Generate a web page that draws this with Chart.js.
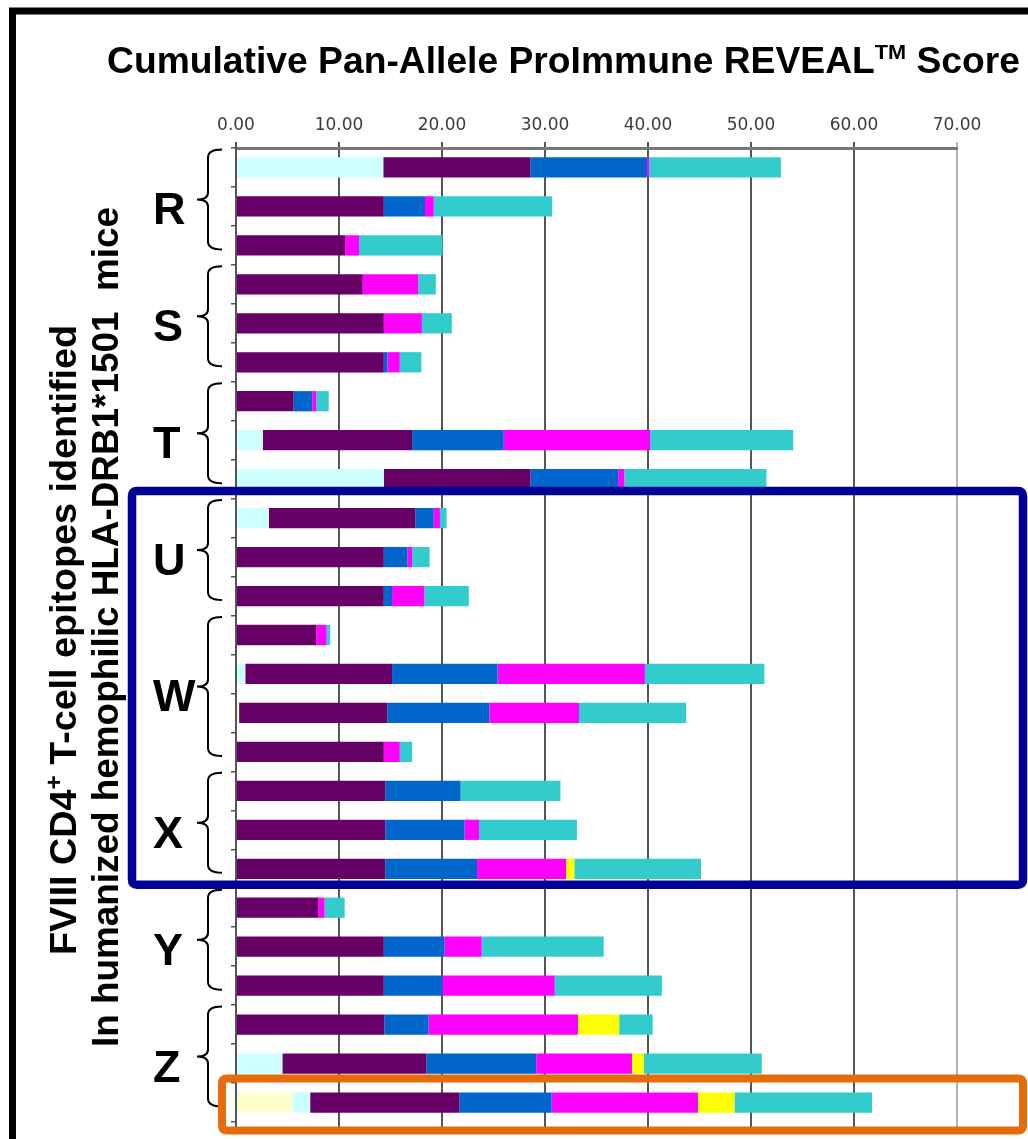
<!DOCTYPE html>
<html>
<head>
<meta charset="utf-8">
<style>
  html, body { margin: 0; padding: 0; background: #fff; overflow: hidden; }
  canvas { display: block; }
</style>
<script src="https://cdn.jsdelivr.net/npm/chart.js@4.4.1/dist/chart.umd.min.js"></script>
</head>
<body>
<canvas id="chart" width="1028" height="1139"></canvas>
<script>
// Epitope rows, top to bottom, grouped by region
const groups = ['R', 'S', 'T', 'U', 'W', 'X', 'Y', 'Z'];
const groupSizes = [3, 3, 3, 3, 4, 3, 3, 3];
const epitopes = ['R-1','R-2','R-3','S-1','S-2','S-3','T-1','T-2','T-3','U-1','U-2','U-3',
                  'W-1','W-2','W-3','W-4','X-1','X-2','X-3','Y-1','Y-2','Y-3','Z-1','Z-2','Z-3'];
const xTicks = [0, 10, 20, 30, 40, 50, 60, 70];

// REVEAL score contribution of each HLA-DR allele, stacked left to right
const allele1 = [0,0,0, 0,0,0, 0,0,0, 0,0,0, 0,0,0.3,0, 0,0,0, 0,0,0, 0,0,5.5];
const allele2 = [14.3,0,0, 0,0,0, 0,2.6,14.35, 3.2,0,0, 0,0.9,0,0, 0,0,0, 0,0,0, 0,4.5,1.7];
const allele3 = [14.3,14.35,10.6, 12.3,14.35,14.35, 5.6,14.5,14.25, 14.2,14.35,14.35,
                 7.8,14.25,14.4,14.35, 14.5,14.5,14.5, 8.0,14.35,14.35, 14.4,14.0,14.5];
const allele4 = [11.3,4.0,0, 0,0,0.35, 1.8,8.9,8.5, 1.8,2.3,0.8, 0,10.25,9.9,0,
                 7.3,7.7,8.9, 0,5.9,5.7, 4.3,10.65,8.95];
const allele5 = [0.2,0.85,1.35, 5.4,3.7,1.2, 0.4,14.2,0.6, 0.6,0.45,3.15, 1.0,14.3,8.7,1.55,
                 0,1.4,8.65, 0.6,3.6,10.9, 14.5,9.3,14.2];
const allele6 = [0,0,0, 0,0,0, 0,0,0, 0,0,0, 0,0,0,0, 0,0,0.8, 0,0,0, 4.0,1.15,3.55];
const allele7 = [12.8,11.5,8.1, 1.7,2.9,2.1, 1.2,13.9,13.8, 0.65,1.7,4.3, 0.35,11.6,10.4,1.2,
                 9.7,9.5,12.3, 1.95,11.85,10.4, 3.25,11.45,13.35];

const seriesNames = ['Allele 1','Allele 2','Allele 3','Allele 4','Allele 5','Allele 6','Allele 7'];
const seriesData = [allele1, allele2, allele3, allele4, allele5, allele6, allele7];
const seriesColors = ['#FFFFCC', '#CCFFFF', '#660066', '#0066CC', '#FF00FF', '#FFFF00', '#33CCCC'];

const FONT = '"Liberation Sans", Arial, sans-serif';

// Braces, group letters, titles, highlight boxes and frame
const decorations = {
  id: 'decorations',
  afterDraw(chart) {
    const ctx = chart.ctx;
    const y = chart.scales.y;
    const px = i => y.getPixelForValue(i);

    ctx.save();
    // group braces + letters
    let start = 0;
    groups.forEach((g, gi) => {
      const end = start + groupSizes[gi] - 1;
      const top = px(start) - 18;
      const bottom = px(end) + 4;
      const mid = (top + bottom) / 2;
      ctx.strokeStyle = '#000';
      ctx.lineWidth = 2;
      ctx.beginPath();
      ctx.moveTo(222, top);
      ctx.quadraticCurveTo(208, top, 208, top + 8);
      ctx.lineTo(208, mid - 7);
      ctx.quadraticCurveTo(208, mid, 197, mid);
      ctx.quadraticCurveTo(208, mid, 208, mid + 7);
      ctx.lineTo(208, bottom - 8);
      ctx.quadraticCurveTo(208, bottom, 222, bottom);
      ctx.stroke();

      ctx.fillStyle = '#000';
      ctx.font = 'bold 45px ' + FONT;
      ctx.textAlign = 'left';
      ctx.textBaseline = 'alphabetic';
      ctx.fillText(g, 153, mid + 10 + 15);
      start = end + 1;
    });

    // chart title with superscript TM
    const tParts = [
      { t: 'Cumulative Pan-Allele ProImmune REVEAL', size: 36, dy: 0 },
      { t: 'TM', size: 21, dy: -14 },
      { t: ' Score', size: 36, dy: 0 }
    ];
    drawParts(ctx, tParts, 107, 73, 913);

    // vertical axis title, two lines
    const l1 = [
      { t: 'FVIII CD4', size: 37, dy: 0 },
      { t: '+', size: 24, dy: -14 },
      { t: ' T-cell epitopes identified', size: 37, dy: 0 }
    ];
    const l2 = [{ t: 'In humanized hemophilic HLA-DRB1*1501  mice', size: 37, dy: 0 }];
    ctx.save();
    ctx.translate(76, 955);
    ctx.rotate(-Math.PI / 2);
    drawParts(ctx, l1, 0, 0, 630);
    ctx.restore();
    ctx.save();
    ctx.translate(118, 1047);
    ctx.rotate(-Math.PI / 2);
    drawParts(ctx, l2, 0, 0, 840);
    ctx.restore();

    // highlight boxes
    ctx.lineJoin = 'round';
    ctx.lineWidth = 8.5;
    ctx.strokeStyle = '#000099';
    roundRect(ctx, 132, px(9) - 27, 1023 - 132, (px(18) + 16) - (px(9) - 27), 5);
    ctx.stroke();
    ctx.strokeStyle = '#E46C0A';
    ctx.lineWidth = 8;
    roundRect(ctx, 222, px(24) - 24, 1023 - 222, 52, 5);
    ctx.stroke();

    // outer frame
    ctx.lineJoin = 'miter';
    ctx.strokeStyle = '#000';
    ctx.lineWidth = 7;
    ctx.beginPath();
    ctx.moveTo(12.5, 1145);
    ctx.lineTo(12.5, 11);
    ctx.lineTo(1035, 11);
    ctx.stroke();
    ctx.restore();
  }
};

// Gridlines run on a little below the last row, under the highlight box
const gridTail = {
  id: 'gridTail',
  beforeDatasetsDraw(chart) {
    const ctx = chart.ctx;
    const x = chart.scales.x;
    const bottom = chart.chartArea.bottom;
    ctx.save();
    ctx.lineWidth = 2;
    xTicks.forEach(v => {
      const p = Math.round(x.getPixelForValue(v));
      ctx.strokeStyle = v === 70 ? '#b4b4b4' : '#555555';
      ctx.beginPath();
      ctx.moveTo(p, bottom - 1);
      ctx.lineTo(p, bottom + 8);
      ctx.stroke();
    });
    ctx.restore();
  }
};

function drawParts(ctx, parts, x, baseY, targetW) {
  let w = 0;
  parts.forEach(p => { ctx.font = 'bold ' + p.size + 'px ' + FONT; w += ctx.measureText(p.t).width; });
  const sx = targetW / w;
  ctx.save();
  ctx.translate(x, baseY);
  ctx.scale(sx, 1);
  ctx.fillStyle = '#000';
  ctx.textAlign = 'left';
  ctx.textBaseline = 'alphabetic';
  let cx = 0;
  parts.forEach(p => {
    ctx.font = 'bold ' + p.size + 'px ' + FONT;
    ctx.fillText(p.t, cx, p.dy);
    cx += ctx.measureText(p.t).width;
  });
  ctx.restore();
}

function roundRect(ctx, x, y, w, h, r) {
  ctx.beginPath();
  ctx.moveTo(x + r, y);
  ctx.lineTo(x + w - r, y);
  ctx.quadraticCurveTo(x + w, y, x + w, y + r);
  ctx.lineTo(x + w, y + h - r);
  ctx.quadraticCurveTo(x + w, y + h, x + w - r, y + h);
  ctx.lineTo(x + r, y + h);
  ctx.quadraticCurveTo(x, y + h, x, y + h - r);
  ctx.lineTo(x, y + r);
  ctx.quadraticCurveTo(x, y, x + r, y);
  ctx.closePath();
}

new Chart(document.getElementById('chart'), {
  type: 'bar',
  data: {
    labels: epitopes,
    datasets: seriesData.map((d, i) => ({
      label: seriesNames[i],
      data: d,
      backgroundColor: seriesColors[i],
      borderWidth: 0,
      categoryPercentage: 1,
      barPercentage: 0.52
    }))
  },
  options: {
    indexAxis: 'y',
    responsive: false,
    animation: false,
    layout: { padding: { left: 230, top: 100, right: 71, bottom: 17 } },
    plugins: {
      legend: { display: false },
      title: { display: false },
      tooltip: { enabled: false }
    },
    scales: {
      x: {
        position: 'top',
        stacked: true,
        min: xTicks[0],
        max: xTicks[xTicks.length - 1],
        afterBuildTicks: s => { s.ticks = xTicks.map(v => ({ value: v })); },
        afterFit: s => { s.height = 48; },
        ticks: {
          callback: v => Number(v).toFixed(2),
          font: { family: '"DejaVu Sans", Verdana, sans-serif', size: 17 },
          color: '#3c3c3c',
          padding: 6,
          maxRotation: 0
        },
        grid: {
          color: c => (c.tick && c.tick.value === 70 ? '#b4b4b4' : '#555555'),
          lineWidth: 2,
          tickLength: 6
        },
        border: { display: true, color: '#777777', width: 3 }
      },
      y: {
        stacked: true,
        afterFit: s => { s.width = 6; },
        ticks: { display: false },
        grid: { drawOnChartArea: false, drawTicks: true, tickLength: 5, color: '#555555', lineWidth: 1.5 },
        border: { display: true, color: '#555555', width: 2 }
      }
    }
  },
  plugins: [gridTail, decorations]
});
</script>
</body>
</html>
